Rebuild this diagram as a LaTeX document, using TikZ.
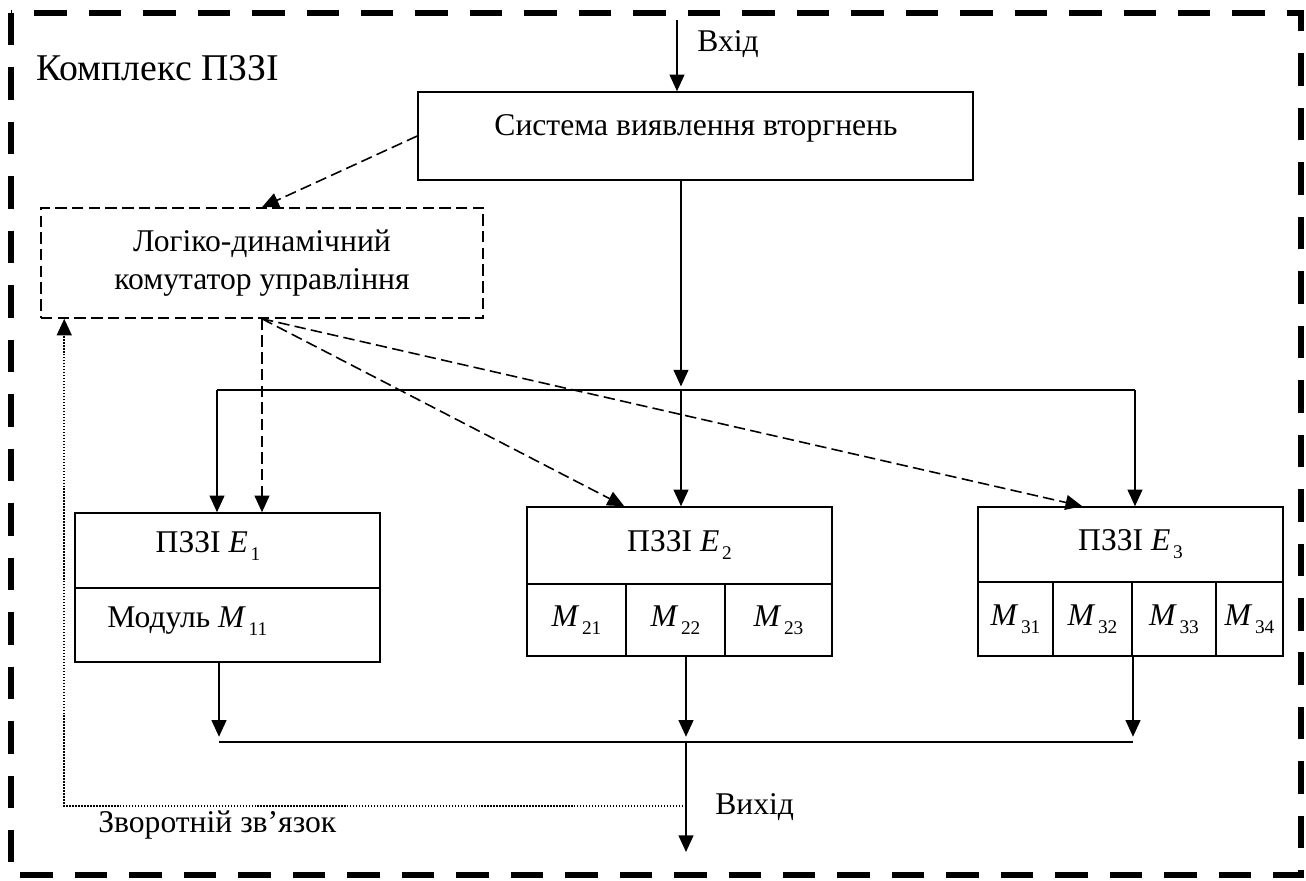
\documentclass[tikz,border=0pt]{standalone}
\usepackage{fontspec}
\setmainfont{Liberation Serif}
\usepackage{tikz}
\usetikzlibrary{arrows.meta}

\newcommand{\ix}[2]{\textit{#1}\kern1.5pt\raisebox{-0.55ex}{\fontsize{11pt}{11pt}\selectfont #2}}

\tikzset{
  blk/.style={draw, line width=0.9pt, inner sep=0pt},
  arr/.style={line width=0.9pt, -{Triangle[length=9.5pt,width=8.5pt]}},
  dsh/.style={line width=0.9pt, dash pattern=on 6.5pt off 3pt},
  fbk/.style={line width=1.1pt, dash pattern=on 0.8pt off 0.9pt},
  lbl/.style={inner sep=0pt, font=\fontsize{18pt}{21.5pt}\selectfont},
}

\begin{document}
\begin{tikzpicture}[x=0.02cm, y=-0.02cm]
\useasboundingbox (0,0) rectangle (1306,881);
% outer frame
\draw[line width=3.4pt, dash pattern=on 18.5pt off 12.5pt] (11,13) rectangle (1301,875);
\node[inner sep=0pt, anchor=base west, font=\fontsize{21.5pt}{26pt}\selectfont] (kpz) at (36,81) {Комплекс ПЗЗІ};

% blocks
\node[blk, minimum width=11.1cm, minimum height=1.76cm] (svv) at (695.5,136) {};
\node[lbl, anchor=base] (svvt) at (696,136) {Система виявлення вторгнень};
\node[blk, dsh, lbl, align=center, minimum width=8.84cm, minimum height=2.2cm] (ldk) at (262,263) {Логіко-динамічний\\комутатор управління};

\node[blk, minimum width=6.1cm, minimum height=1.5cm] (e1h) at (227.5,550.5) {};
\node[blk, minimum width=6.1cm, minimum height=1.48cm] (e1m) at (227.5,625) {};
\node[lbl, anchor=base] (e1t) at (208,553) {ПЗЗІ \ix{E}{1}};
\node[lbl, anchor=base west] (m11) at (107,628) {Модуль \ix{M}{11}};

\node[blk, lbl, minimum width=6.1cm, minimum height=1.54cm] (e2h) at (679.5,545.5) {ПЗЗІ \ix{E}{2}};
\node[blk, lbl, minimum width=1.98cm, minimum height=1.44cm] (m21) at (576.5,620) {\ix{M}{21}};
\node[blk, lbl, minimum width=1.98cm, minimum height=1.44cm] (m22) at (675.5,620) {\ix{M}{22}};
\node[blk, lbl, minimum width=2.14cm, minimum height=1.44cm] (m23) at (778.5,620) {\ix{M}{23}};

\node[blk, lbl, minimum width=6.1cm, minimum height=1.5cm] (e3h) at (1130.5,544.5) {ПЗЗІ \ix{E}{3}};
\node[blk, lbl, minimum width=1.5cm, minimum height=1.48cm] (m31) at (1015.5,619) {\ix{M}{31}};
\node[blk, lbl, minimum width=1.58cm, minimum height=1.48cm] (m32) at (1092.5,619) {\ix{M}{32}};
\node[blk, lbl, minimum width=1.68cm, minimum height=1.48cm] (m33) at (1174,619) {\ix{M}{33}};
\node[blk, lbl, minimum width=1.34cm, minimum height=1.48cm] (m34) at (1249.5,619) {\ix{M}{34}};

% wires
\coordinate (in) at (677,20);
\coordinate (bc) at (681,390);
\coordinate (bl) at (217,390);
\coordinate (br) at (1135,390);
\coordinate (ol) at (219,742);
\coordinate (oc) at (686,742);
\coordinate (or) at (1133,742);
\coordinate (out) at (686,852);
\coordinate (fb) at (686,806);

\draw[arr] (in) -- (in |- svv.north);
\node[lbl, anchor=base west] (vhid) at (697,52) {Вхід};
\draw[arr, shorten >=2pt] (bc |- svv.south) -- (bc);
\draw[line width=0.9pt] (bl) -- (br);
\draw[arr] (bl) -- (bl |- e1h.north);
\draw[arr] (bc) -- (bc |- e2h.north);
\draw[arr] (br) -- (br |- e3h.north);

\draw[arr, dsh] (svv.west) -- (ldk.north);
\draw[arr, dsh] (ldk.south) -- (ldk.south |- e1h.north);
\draw[arr, dsh] (ldk.south) -- ([xshift=1.96cm]e2h.north west);
\draw[arr, dsh] (ldk.south) -- ([xshift=2.1cm]e3h.north west);

\draw[arr, shorten >=3pt] (ol |- e1m.south) -- (ol);
\draw[arr, shorten >=3pt] (oc |- m22.south) -- (oc);
\draw[arr, shorten >=3pt] (or |- m33.south) -- (or);
\draw[line width=0.9pt] (ol) -- (or);
\draw[arr] (oc) -- (out);
\node[lbl, anchor=base west] (vyh) at (715,815) {Вихід};

\draw[arr, fbk] (fb) -| ([xshift=0.48cm]ldk.south west);
\node[lbl, anchor=base west] (zz) at (98,832) {Зворотній зв’язок};
\end{tikzpicture}
\end{document}
